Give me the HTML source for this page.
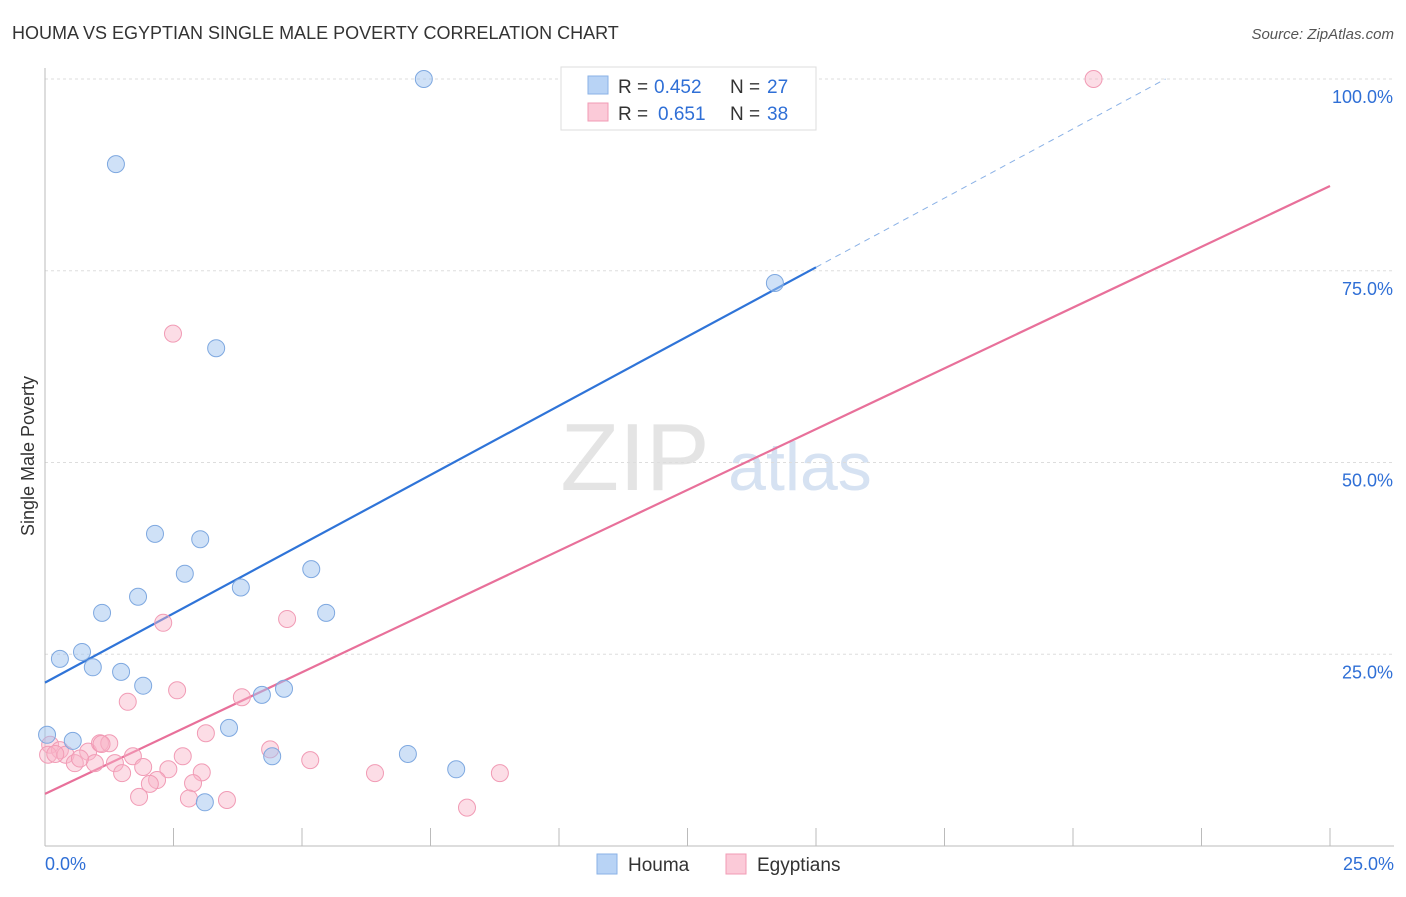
<!DOCTYPE html>
<html><head><meta charset="utf-8"><style>
body{margin:0;background:#fff;font-family:"Liberation Sans",sans-serif;}
svg text{font-family:"Liberation Sans",sans-serif;}
</style></head><body>
<svg id="chart" width="1406" height="892">
<text x="12" y="39" font-size="18" fill="#333">HOUMA VS EGYPTIAN SINGLE MALE POVERTY CORRELATION CHART</text>
<text x="1394" y="39" font-size="15" fill="#555" font-style="italic" text-anchor="end">Source: ZipAtlas.com</text>
<text x="635" y="490" font-size="96" fill="#e4e4e4" text-anchor="middle" font-family="Liberation Serif">ZIP</text>
<text x="800" y="490" font-size="68" fill="#d6e2f2" text-anchor="middle">atlas</text>
<g id="grid"></g><g id="axes"></g><g id="lines"></g><g id="points"></g>
<text transform="translate(34,456) rotate(-90)" font-size="18" fill="#333" text-anchor="middle">Single Male Poverty</text>
<g>
<rect x="561" y="67" width="255" height="63" fill="#fff" stroke="#ddd"/>
<rect x="588" y="76" width="20" height="18" fill="#b8d3f5" stroke="#8ab1e6"/>
<rect x="588" y="103" width="20" height="18" fill="#fbcad8" stroke="#f19bb5"/>
<text x="618" y="93" font-size="19" fill="#333">R =</text>
<text x="654" y="93" font-size="19" fill="#2f6fd6">0.452</text>
<text x="730" y="93" font-size="19" fill="#333">N =</text>
<text x="767" y="93" font-size="19" fill="#2f6fd6">27</text>
<text x="618" y="120" font-size="19" fill="#333">R =</text>
<text x="658" y="120" font-size="19" fill="#2f6fd6">0.651</text>
<text x="730" y="120" font-size="19" fill="#333">N =</text>
<text x="767" y="120" font-size="19" fill="#2f6fd6">38</text>
</g>
<g>
<rect x="597" y="854" width="20" height="20" fill="#b8d3f5" stroke="#8ab1e6"/>
<text x="628" y="871" font-size="19" fill="#333">Houma</text>
<rect x="726" y="854" width="20" height="20" fill="#fbcad8" stroke="#f19bb5"/>
<text x="757" y="871" font-size="19" fill="#333">Egyptians</text>
</g>
</svg>
<script>
const houmaX=[7.37,1.38,14.2,3.33,2.14,3.02,2.72,5.18,3.81,1.81,1.11,5.47,0.72,0.29,0.93,1.48,1.91,4.65,4.22,3.58,0.04,0.54,4.42,7.06,8.0,3.11,10.8];
const houmaY=[100,88.9,73.4,64.9,40.7,40.0,35.5,36.1,33.7,32.5,30.4,30.4,25.3,24.4,23.3,22.7,20.9,20.5,19.7,15.4,14.5,13.7,11.7,12.0,10.0,5.7,100];
const egyX=[20.4,2.49,2.30,4.71,2.57,1.61,3.83,3.13,4.38,0.1,0.29,0.06,0.4,0.84,1.07,1.25,1.71,2.68,0.58,0.97,1.36,1.91,2.40,5.16,1.50,3.05,6.42,8.85,2.18,2.04,2.88,1.83,2.8,3.54,8.21,0.68,0.2,1.1];
const egyY=[100,66.8,29.1,29.6,20.3,18.8,19.4,14.7,12.6,13.2,12.5,11.9,11.9,12.3,13.4,13.4,11.7,11.7,10.8,10.8,10.8,10.3,10.0,11.2,9.5,9.6,9.5,9.5,8.6,8.1,8.2,6.4,6.2,6.0,5.0,11.4,12.0,13.3];
const houmaTrend=[21.3,3.61];
const egyTrend=[6.8,3.17];
const yTicks=[25,50,75,100];
const yTickLabels=["25.0%","50.0%","75.0%","100.0%"];
const xTicks=[0,2.5,5,7.5,10,12.5,15,17.5,20,22.5,25];
const NS="http://www.w3.org/2000/svg";
const sx=v=>45+v*51.4, sy=v=>846-v*7.67;
function mk(t,a,p){const e=document.createElementNS(NS,t);for(const k in a)e.setAttribute(k,a[k]);document.getElementById(p).appendChild(e);return e;}
yTicks.forEach((v,i)=>{
 const g=mk('line',{x1:45,x2:1394,y1:sy(v),y2:sy(v),stroke:'#ddd','stroke-dasharray':'3,3'},'grid');
 
 
 const t=mk('text',{x:1393,y:sy(v)+24,'font-size':18,fill:'#2f6fd6','text-anchor':'end'},'axes');
 t.textContent=yTickLabels[i];
 
 
});
const ax=mk('line',{x1:45,x2:1394,y1:846,y2:846,stroke:'#bbb'},'axes');


const ay=mk('line',{x1:45,x2:45,y1:68,y2:846,stroke:'#bbb'},'axes');


xTicks.forEach(v=>{const l=mk('line',{x1:sx(v),x2:sx(v),y1:828,y2:846,stroke:'#bbb'},'axes');
 
 });
[[0,"0.0%","start",45],[25,"25.0%","end",1394]].forEach(d=>{const t=mk('text',{x:d[3],y:870,'font-size':18,fill:'#2f6fd6','text-anchor':d[2]},'axes');t.textContent=d[1];
 
 });
const hl=mk('line',{x1:sx(0),y1:sy(houmaTrend[0]),x2:sx(15),y2:sy(houmaTrend[0]+15*houmaTrend[1]),stroke:'#2f74d8','stroke-width':2.2},'lines');


const xe=(100-houmaTrend[0])/houmaTrend[1];
const hd=mk('line',{x1:sx(15),y1:sy(houmaTrend[0]+15*houmaTrend[1]),x2:sx(xe),y2:sy(100),stroke:'#8ab1e6','stroke-width':1,'stroke-dasharray':'6,5'},'lines');


const el=mk('line',{x1:sx(0),y1:sy(egyTrend[0]),x2:sx(25),y2:sy(egyTrend[0]+25*egyTrend[1]),stroke:'#e8709a','stroke-width':2.2},'lines');


egyX.forEach((x,i)=>{const c=mk('circle',{cx:sx(x),cy:sy(egyY[i]),r:8.5,fill:'rgba(248,180,200,0.45)',stroke:'#f19bb5','stroke-width':1},'points');
 
 });
houmaX.forEach((x,i)=>{const c=mk('circle',{cx:sx(x),cy:sy(houmaY[i]),r:8.5,fill:'rgba(160,195,240,0.5)',stroke:'#7ea8e0','stroke-width':1},'points');
 
 });
</script>
</body></html>
